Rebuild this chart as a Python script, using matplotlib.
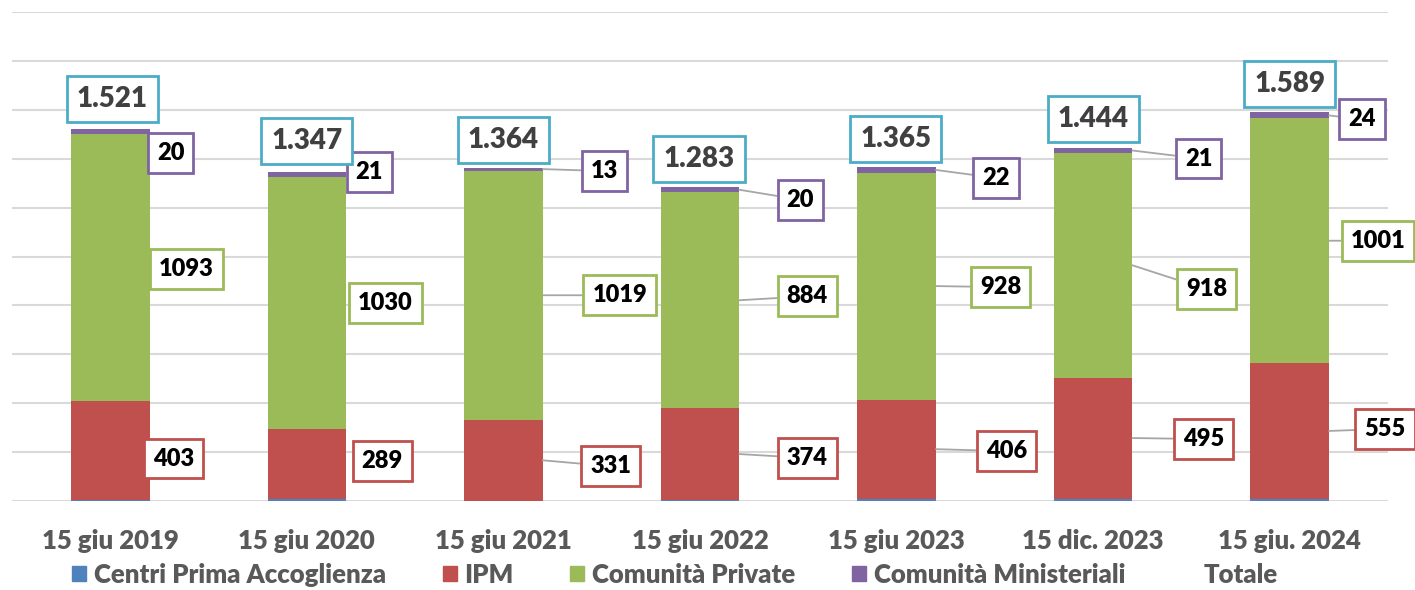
import numpy as np
import matplotlib.pyplot as plt
from matplotlib.patches import Patch

plt.rcParams['font.family'] = ['Lato', 'DejaVu Sans']
plt.rcParams['font.weight'] = 'heavy'

# minori presenti per tipologia di struttura
date = ['15 giu 2019', '15 giu 2020', '15 giu 2021', '15 giu 2022',
        '15 giu 2023', '15 dic. 2023', '15 giu. 2024']
cpa = [5, 7, 1, 5, 9, 10, 9]
ipm = [403, 289, 331, 374, 406, 495, 555]
com_private = [1093, 1030, 1019, 884, 928, 918, 1001]
com_ministeriali = [20, 21, 13, 20, 22, 21, 24]
totale = [1521, 1347, 1364, 1283, 1365, 1444, 1589]

c_blue = '#4f81bd'
c_red = '#c0504d'
c_green = '#9bbb59'
c_purple = '#8064a2'
c_cyan = '#4bacc6'

# spostamento etichette (pixel) rispetto al bordo destro della barra
off_ipm = [(24, -8), (36, 3), (68, -6), (68, -4), (71, -2), (71, -1), (56, 2)]
off_priv = [(37, -1), (39, 0), (77, 0), (68, 4), (65, -1), (74, -24), (49, 0)]
off_min = [(21, -21), (23, 2), (62, -2), (61, -10), (60, -8), (66, -8), (33, -4)]
off_tot = [(2, 30), (0, 31), (0, 28), (-1, 28), (-1, 28), (0, 29), (0, 28)]

fig = plt.figure(figsize=(14.15, 5.9), dpi=100)
ax = fig.add_axes([12/1415, 1-501/590, 1376/1415, 489/590])

x = np.arange(len(date))
w = 0.40
b1 = np.array(cpa)
b2 = b1 + np.array(ipm)
b3 = b2 + np.array(com_private)

ax.bar(x, cpa, w, color=c_blue, zorder=2)
ax.bar(x, ipm, w, bottom=b1, color=c_red, zorder=2)
ax.bar(x, com_private, w, bottom=b2, color=c_green, zorder=2)
ax.bar(x, com_ministeriali, w, bottom=b3, color=c_purple, zorder=2)

ax.set_ylim(0, 2000)
ax.set_xlim(-0.5, len(date) - 0.5)
ax.set_yticks(np.arange(0, 2001, 200))
ax.yaxis.grid(True, color='#d9d9d9', linewidth=1.5, zorder=0)
ax.set_axisbelow(True)
ax.tick_params(axis='y', left=False, labelleft=False)
ax.tick_params(axis='x', length=0, pad=20, labelsize=18.5, labelcolor='#595959')
ax.set_xticks(x)
ax.set_xticklabels(date, fontweight='heavy')
for s in ax.spines.values():
    s.set_visible(False)


def etichetta(xi, y, val, off, col, leader):
    kw = {}
    if leader:
        kw['arrowprops'] = dict(arrowstyle='-', color='#a6a6a6', lw=1.3,
                                shrinkA=0, shrinkB=0)
    ax.annotate(str(val), xy=(xi + w / 2, y), xytext=off,
                textcoords='offset pixels', ha='center', va='center',
                fontsize=17, fontweight='heavy', color='black', zorder=5,
                bbox=dict(boxstyle='square,pad=0.38', fc='white', ec=col, lw=2),
                **kw)


for i in x:
    lead = i >= 2
    etichetta(i, b1[i] + ipm[i] / 2, ipm[i], off_ipm[i], c_red, lead)
    etichetta(i, b2[i] + com_private[i] / 2, com_private[i], off_priv[i], c_green, lead)
    etichetta(i, b3[i] + com_ministeriali[i] / 2, com_ministeriali[i], off_min[i], c_purple, lead)
    ax.annotate(f'{totale[i]:,}'.replace(',', '.'), xy=(i, totale[i]),
                xytext=off_tot[i], textcoords='offset pixels',
                ha='center', va='center', fontsize=20, fontweight='heavy',
                color='#404040', zorder=5,
                bbox=dict(boxstyle='square,pad=0.36', fc='white', ec=c_cyan, lw=2))

handles = [Patch(color=c_blue, label='Centri Prima Accoglienza'),
           Patch(color=c_red, label='IPM'),
           Patch(color=c_green, label='Comunità Private'),
           Patch(color=c_purple, label='Comunità Ministeriali'),
           Patch(color='none', label='Totale')]
leg = fig.legend(handles=handles, loc='center', bbox_to_anchor=(0.477, 0.026),
                 ncol=5, frameon=False, fontsize=18.5, handlelength=0.55,
                 handleheight=0.55, handletextpad=0.3, columnspacing=2.2)
for t in leg.get_texts():
    t.set_color('#595959')
    t.set_fontweight('heavy')

fig.savefig('out.png', dpi=100)
